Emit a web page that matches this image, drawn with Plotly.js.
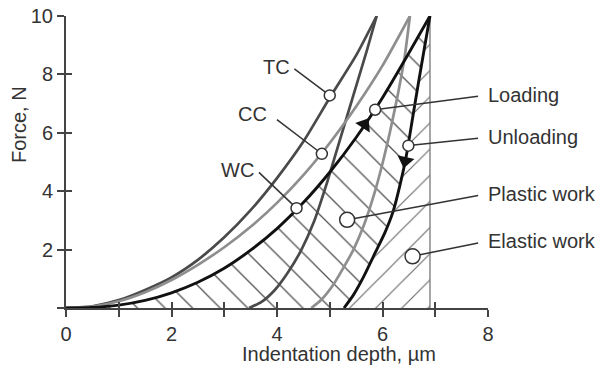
<!DOCTYPE html>
<html>
<head>
<meta charset="utf-8">
<script src="https://cdn.plot.ly/plotly-3.0.1.min.js"></script>
<style>html,body{margin:0;padding:0;background:#fff;}#chart{width:600px;height:367px;}</style>
</head>
<body>
<div id="chart"></div>
<script>
// ---- data (indentation depth in µm, force in N) ----
const tcLoadX   = [0, 0.5, 1, 1.5, 2, 2.5, 3, 3.5, 4, 4.5, 5, 5.5, 5.89];
const tcLoadY   = [0, 0.06, 0.27, 0.62, 1.05, 1.65, 2.42, 3.35, 4.45, 5.7, 7.2, 8.65, 10];
const tcUnloadX = [3.47, 3.7, 3.95, 4.2, 4.45, 4.7, 4.95, 5.2, 5.45, 5.7, 5.89];
const tcUnloadY = [0, 0.2, 0.6, 1.2, 1.95, 2.95, 4.3, 5.8, 7.3, 8.8, 10];

const ccLoadX   = [0, 0.5, 1, 1.5, 2, 2.5, 3, 3.5, 4, 4.5, 5, 5.5, 6, 6.52];
const ccLoadY   = [0, 0.05, 0.23, 0.54, 0.96, 1.48, 2.08, 2.78, 3.6, 4.55, 5.65, 6.9, 8.3, 10];
const ccUnloadX = [4.65, 4.85, 5.05, 5.25, 5.45, 5.65, 5.85, 6.0, 6.15, 6.3, 6.42, 6.52];
const ccUnloadY = [0, 0.3, 0.75, 1.35, 2.0, 2.85, 3.95, 4.95, 6.1, 7.4, 8.6, 10];

const wcLoadX   = [0, 0.5, 1, 1.5, 2, 2.5, 3, 3.5, 4, 4.5, 5, 5.5, 6, 6.5, 6.9];
const wcLoadY   = [0, 0.02, 0.1, 0.26, 0.52, 0.88, 1.36, 1.98, 2.72, 3.61, 4.65, 5.84, 7.2, 8.73, 10];
const wcUnloadX = [5.27, 5.45, 5.65, 5.85, 6.05, 6.2, 6.33, 6.45, 6.57, 6.68, 6.79, 6.9];
const wcUnloadY = [0, 0.45, 1.1, 1.85, 2.6, 3.3, 4.2, 5.2, 6.5, 7.7, 8.85, 10];

// callout points on the curves
const calloutLabels = ['TC', 'CC', 'WC', 'Loading', 'Unloading'];
const calloutX = [5.00, 4.85, 4.37, 5.86, 6.49];
const calloutY = [7.28, 5.28, 3.42, 6.79, 5.56];
// area callouts
const areaLabels = ['Plastic work', 'Elastic work'];
const areaX = [5.33, 6.57];
const areaY = [3.02, 1.77];
// direction arrows on the WC curve
const arrowX = [5.66, 6.43];
const arrowY = [6.28, 5.04];

const xTickVals = [0, 1, 2, 3, 4, 5, 6, 7, 8];
const xTickText = ['0', '', '2', '', '4', '', '6', '', '8'];
const yTickVals = [0, 2, 4, 6, 8, 10];
const yTickText = ['', '2', '4', '6', '8', '10'];

// ---- styling ----
const DARK = '#4a4a4a', LIGHT = '#8e8e8e', BLACK = '#111111', TXT = '#333333', AX = '#444444';
const FONT = 'Liberation Sans, Arial, Helvetica, sans-serif';

const hMax = wcUnloadX[wcUnloadX.length - 1];
const fMax = wcUnloadY[wcUnloadY.length - 1];

// plastic work region: under loading curve, left of unloading curve
const plasticX = wcLoadX.concat(wcUnloadX.slice().reverse());
const plasticY = wcLoadY.concat(wcUnloadY.slice().reverse());
// elastic work region: right of unloading curve up to max depth
const elasticX = wcUnloadX.concat([hMax]);
const elasticY = wcUnloadY.concat([0]);

function curve(x, y, color, w) {
  return {x: x, y: y, type: 'scatter', mode: 'lines', hoverinfo: 'skip',
          line: {color: color, width: w, shape: 'spline', smoothing: 0.6}};
}

const traces = [
  {x: plasticX, y: plasticY, type: 'scatter', mode: 'lines', fill: 'toself', hoverinfo: 'skip',
   line: {width: 0, color: 'rgba(0,0,0,0)'}, fillcolor: 'rgba(0,0,0,0)',
   fillpattern: {shape: '\\', size: 19.5, solidity: 0.065, fgcolor: '#4f4f4f', bgcolor: 'rgba(0,0,0,0)'}},
  {x: elasticX, y: elasticY, type: 'scatter', mode: 'lines', fill: 'toself', hoverinfo: 'skip',
   line: {width: 0, color: 'rgba(0,0,0,0)'}, fillcolor: 'rgba(0,0,0,0)',
   fillpattern: {shape: '/', size: 18.5, solidity: 0.06, fgcolor: '#666', bgcolor: 'rgba(0,0,0,0)'}},
  {x: [hMax, hMax], y: [0, fMax], type: 'scatter', mode: 'lines', hoverinfo: 'skip',
   line: {color: '#777', width: 1.3}},
  curve(tcLoadX, tcLoadY, DARK, 2.7),
  curve(tcUnloadX, tcUnloadY, DARK, 2.7),
  curve(ccLoadX, ccLoadY, LIGHT, 2.7),
  curve(ccUnloadX, ccUnloadY, LIGHT, 2.7),
  curve(wcLoadX, wcLoadY, BLACK, 2.9),
  curve(wcUnloadX, wcUnloadY, BLACK, 2.9),
  {x: arrowX, y: arrowY, type: 'scatter', mode: 'markers', hoverinfo: 'skip',
   marker: {symbol: ['triangle-up', 'triangle-down'], angle: [33, 12], size: 15, color: BLACK,
            line: {width: 0}}},
  {x: calloutX, y: calloutY, type: 'scatter', mode: 'markers', hoverinfo: 'skip', cliponaxis: false,
   marker: {symbol: 'circle', size: 11, color: '#fff', line: {color: TXT, width: 1.5}}},
  {x: areaX, y: areaY, type: 'scatter', mode: 'markers', hoverinfo: 'skip', cliponaxis: false,
   marker: {symbol: 'circle', size: 15, color: '#fff', line: {color: TXT, width: 1.5}}},
  {x: [0], y: [0], xaxis: 'x2', yaxis: 'y2', type: 'scatter', mode: 'markers',
   marker: {opacity: 0}, hoverinfo: 'skip'}
];

// label anchor positions (data units) and leader gaps
const labelPos = {
  'TC':           {x: 4.284, y: 8.25, anchor: 'right', gap: 3},
  'CC':           {x: 3.848, y: 6.66, anchor: 'right', gap: 10},
  'WC':           {x: 3.602, y: 4.74, anchor: 'right', gap: 4},
  'Loading':      {x: 7.962, y: 7.29, anchor: 'left', gap: 8},
  'Unloading':    {x: 7.962, y: 5.84, anchor: 'left', gap: 8},
  'Plastic work': {x: 7.962, y: 3.90, anchor: 'left', gap: 8},
  'Elastic work': {x: 7.962, y: 2.28, anchor: 'left', gap: 8}
};

const annotations = [];
function addCallout(label, px, py, r) {
  const p = labelPos[label];
  annotations.push({
    x: px, y: py, xref: 'x', yref: 'y', ax: p.x, ay: p.y, axref: 'x', ayref: 'y',
    text: label, showarrow: true, arrowhead: 0, arrowwidth: 1.5, arrowcolor: TXT,
    standoff: r, startstandoff: p.gap, xanchor: p.anchor, yanchor: 'middle',
    font: {family: FONT, size: 20, color: TXT}
  });
}
calloutLabels.forEach((l, i) => addCallout(l, calloutX[i], calloutY[i], 5.5));
areaLabels.forEach((l, i) => addCallout(l, areaX[i], areaY[i], 7.5));

annotations.push({text: 'Force, N', xref: 'paper', yref: 'paper', x: -0.1114, y: 0.63,
  textangle: -90, showarrow: false, xanchor: 'center', yanchor: 'middle',
  font: {family: FONT, size: 20, color: TXT}});
annotations.push({text: 'Indentation depth, µm', xref: 'paper', yref: 'paper', x: 0.647, y: -0.159,
  showarrow: false, xanchor: 'center', yanchor: 'middle',
  font: {family: FONT, size: 20, color: TXT}});

const axisCommon = {showline: true, linecolor: AX, linewidth: 2, ticks: 'outside', ticklen: 7,
  tickwidth: 2, tickcolor: AX, showgrid: false, zeroline: false, fixedrange: true,
  tickfont: {family: FONT, size: 20, color: TXT}, tickmode: 'array'};

const layout = {
  width: 600, height: 367,
  margin: {l: 66, r: 112, t: 16, b: 59, pad: 0},
  paper_bgcolor: '#fff', plot_bgcolor: '#fff',
  showlegend: false,
  font: {family: FONT, color: TXT},
  xaxis: Object.assign({}, axisCommon, {range: [0, 8], tickvals: xTickVals, ticktext: xTickText}),
  yaxis: Object.assign({}, axisCommon, {range: [0, 10], tickvals: yTickVals, ticktext: yTickText}),
  xaxis2: {overlaying: 'x', anchor: 'y', side: 'bottom', range: [0, 8], showline: false,
    ticks: 'inside', ticklen: 6, tickwidth: 2, tickcolor: AX, tickmode: 'array', tickvals: xTickVals,
    showticklabels: false, showgrid: false, zeroline: false, fixedrange: true},
  yaxis2: {overlaying: 'y', anchor: 'x', side: 'left', range: [0, 10], showline: false,
    ticks: 'inside', ticklen: 6, tickwidth: 2, tickcolor: AX, tickmode: 'array', tickvals: yTickVals,
    showticklabels: false, showgrid: false, zeroline: false, fixedrange: true},
  annotations: annotations
};

Plotly.newPlot('chart', traces, layout, {staticPlot: true, displayModeBar: false});
</script>
</body>
</html>
